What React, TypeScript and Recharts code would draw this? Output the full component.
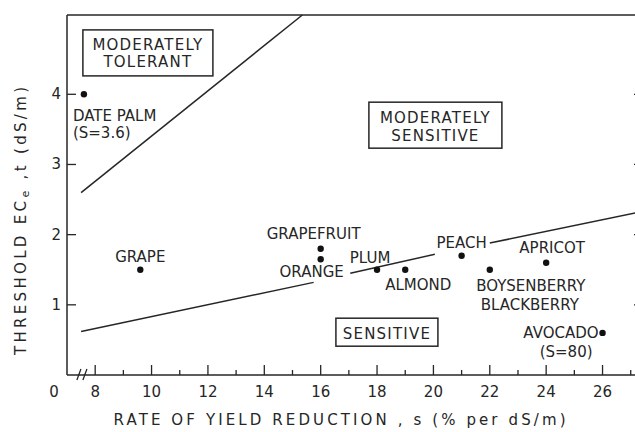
import React from 'react';
import { ScatterChart, Scatter, XAxis, YAxis, ReferenceLine, ReferenceDot } from 'recharts';

// crops: rate of yield reduction s (% per dS/m) vs threshold ECe,t (dS/m)
const crops = ['DATE PALM', 'GRAPE', 'GRAPEFRUIT', 'ORANGE', 'PLUM', 'ALMOND', 'PEACH', 'BOYSENBERRY', 'APRICOT', 'AVOCADO'];
const slopes = [7.6, 9.6, 16, 16, 18, 19, 21, 22, 24, 26];
const thresholds = [4.0, 1.5, 1.8, 1.65, 1.5, 1.5, 1.7, 1.5, 1.6, 0.6];
const labelLines = [
  ['DATE PALM', '(S=3.6)'],
  ['GRAPE'],
  ['GRAPEFRUIT'],
  ['ORANGE'],
  ['PLUM'],
  ['ALMOND'],
  ['PEACH'],
  ['BOYSENBERRY', 'BLACKBERRY'],
  ['APRICOT'],
  ['AVOCADO', '(S=80)'],
];

// class boundaries
const tolerantBoundary = [[7.5, 2.6], [15.35, 5.13]];
const sensitiveBoundary = [
  [[7.5, 0.62], [15.75, 1.32]],
  [[17.05, 1.45], [20.05, 1.72]],
  [[22.0, 1.88], [27.4, 2.33]],
];

// boxed class names
const regionNames = [['MODERATELY', 'TOLERANT'], ['MODERATELY', 'SENSITIVE'], ['SENSITIVE']];
const regionS = [9.87, 20.07, 18.35];
const regionT = [4.59, 3.56, 0.61];

const xTicks = [8, 9, 10, 11, 12, 13, 14, 15, 16, 17, 18, 19, 20, 21, 22, 23, 24, 25, 26, 27];
const yTicks = [0, 1, 2, 3, 4];
const yTicksRight = [1, 2, 3, 4];

const INK = '#262626';
const FONT = '"DejaVu Sans", sans-serif';

// label offsets (px) from each dot, one pair per text line
const labelPlacement: { anchor: 'start' | 'middle' | 'end'; at: number[][] }[] = [
  { anchor: 'start', at: [[-11, 27], [-11, 44]] },
  { anchor: 'middle', at: [[0, -8]] },
  { anchor: 'middle', at: [[-7, -10]] },
  { anchor: 'middle', at: [[-9, 18]] },
  { anchor: 'middle', at: [[-7, -7]] },
  { anchor: 'middle', at: [[13, 20]] },
  { anchor: 'middle', at: [[0, -8]] },
  { anchor: 'middle', at: [[41, 21], [40, 40]] },
  { anchor: 'middle', at: [[6, -10]] },
  { anchor: 'end', at: [[-4, 5], [-10, 24]] },
];

const regionBox = [
  { w: 130, h: 46, base: [-3, 14] },
  { w: 133, h: 46, base: [-2, 16] },
  { w: 102, h: 28, base: [7] },
];

const cropData = crops.map((name, i) => ({ name, s: slopes[i], t: thresholds[i], lines: labelLines[i], idx: i }));

const txt = { fontFamily: FONT, fontSize: 15, fill: INK };

const CropDot = (props: any) => {
  const { cx, cy, payload } = props;
  const p = labelPlacement[payload.idx];
  return (
    <g>
      <circle cx={cx} cy={cy} r={3.2} fill="#111" />
      {payload.lines.map((line: string, k: number) => (
        <text key={k} x={cx + p.at[k][0]} y={cy + p.at[k][1]} textAnchor={p.anchor} {...txt}>
          {line}
        </text>
      ))}
    </g>
  );
};

const regionShape = (i: number) => (props: any) => {
  const { cx, cy } = props;
  const b = regionBox[i];
  return (
    <g>
      <rect x={cx - b.w / 2} y={cy - b.h / 2} width={b.w} height={b.h} fill="none" stroke={INK} strokeWidth={1.5} />
      {regionNames[i].map((line, k) => (
        <text key={k} x={cx} y={cy + b.base[k]} textAnchor="middle" {...txt} letterSpacing={1.2}>
          {line}
        </text>
      ))}
    </g>
  );
};

const BreakMark = (props: any) => {
  const { cx, cy } = props;
  return (
    <g stroke={INK} strokeWidth={1.3}>
      <line x1={cx - 7} y1={cy + 5} x2={cx - 3} y2={cy - 6} />
      <line x1={cx - 1} y1={cy + 5} x2={cx + 3} y2={cy - 6} />
    </g>
  );
};

const XTick = (props: any) => {
  const { x, y, payload } = props;
  const v = payload.value;
  const major = v % 2 === 0;
  return (
    <g>
      <line x1={x} x2={x} y1={y} y2={y - (major ? 10 : 5)} stroke={INK} strokeWidth={1.3} />
      {major && (
        <text x={x} y={y + 22} textAnchor="middle" {...txt}>
          {v}
        </text>
      )}
    </g>
  );
};

const YTick = (props: any) => {
  const { x, y, payload } = props;
  const v = payload.value;
  if (v === 0) {
    return (
      <text x={x - 13} y={y + 22} textAnchor="middle" {...txt}>
        0
      </text>
    );
  }
  return (
    <g>
      <line x1={x} x2={x + 9} y1={y} y2={y} stroke={INK} strokeWidth={1.3} />
      <text x={x - 6} y={y + 5} textAnchor="end" {...txt}>
        {v}
      </text>
    </g>
  );
};

const RTick = (props: any) => {
  const { x, y } = props;
  return <line x1={x - 8} x2={x} y1={y} y2={y} stroke={INK} strokeWidth={1.3} />;
};

const XTitle = (props: any) => {
  const vb = props.viewBox;
  return (
    <text x={vb.x + vb.width / 2 - 15} y={vb.y + 50} textAnchor="middle" textLength={452} lengthAdjust="spacing" {...txt}>
      RATE OF YIELD REDUCTION , s (% per dS/m)
    </text>
  );
};

const YTitle = (props: any) => {
  const vb = props.viewBox;
  const cx = vb.x + 21;
  const cy = vb.y + vb.height / 2 + 26;
  return (
    <text
      x={cx}
      y={cy}
      transform={`rotate(-90 ${cx} ${cy})`}
      textAnchor="middle"
      dominantBaseline="central"
      textLength={268}
      lengthAdjust="spacing"
      {...txt}
    >
      THRESHOLD EC
      <tspan fontSize={11} dy={4}>e</tspan>
      <tspan dy={-4}> ,t (dS/m)</tspan>
    </text>
  );
};

export default function App() {
  return (
    <div style={{ position: 'absolute', left: 0, top: 0, width: 635, height: 432, overflow: 'hidden', background: '#fff' }}>
      <ScatterChart width={660} height={432} margin={{ top: 15, right: 0, bottom: 0, left: 0 }}>
        <XAxis
          type="number"
          dataKey="s"
          domain={[7, 27.4]}
          ticks={xTicks}
          interval={0}
          allowDataOverflow
          height={57}
          tickSize={0}
          tickMargin={0}
          tick={<XTick />}
          axisLine={{ stroke: INK, strokeWidth: 1.5 }}
          label={<XTitle />}
        />
        <YAxis
          type="number"
          dataKey="t"
          domain={[0, 5.13]}
          ticks={yTicks}
          interval={0}
          allowDataOverflow
          width={67}
          tickSize={0}
          tickMargin={0}
          tick={<YTick />}
          axisLine={{ stroke: INK, strokeWidth: 1.5 }}
          label={<YTitle />}
        />
        <YAxis
          yAxisId="right"
          orientation="right"
          type="number"
          domain={[0, 5.13]}
          ticks={yTicksRight}
          interval={0}
          allowDataOverflow
          width={18}
          tickSize={0}
          tickMargin={0}
          tick={<RTick />}
          axisLine={{ stroke: INK, strokeWidth: 1.5 }}
        />
        <ReferenceLine y={5.13} stroke={INK} strokeWidth={1.5} ifOverflow="visible" />
        <ReferenceLine
          segment={[
            { x: tolerantBoundary[0][0], y: tolerantBoundary[0][1] },
            { x: tolerantBoundary[1][0], y: tolerantBoundary[1][1] },
          ]}
          stroke={INK}
          strokeWidth={1.5}
          ifOverflow="visible"
        />
        {sensitiveBoundary.map((seg, i) => (
          <ReferenceLine
            key={i}
            segment={[
              { x: seg[0][0], y: seg[0][1] },
              { x: seg[1][0], y: seg[1][1] },
            ]}
            stroke={INK}
            strokeWidth={1.5}
            ifOverflow="visible"
          />
        ))}
        {regionNames.map((_, i) => (
          <ReferenceDot key={i} x={regionS[i]} y={regionT[i]} r={1} ifOverflow="visible" shape={regionShape(i)} />
        ))}
        <ReferenceDot x={7.6} y={0} r={1} ifOverflow="visible" shape={BreakMark} />
        <Scatter data={cropData} shape={CropDot} isAnimationActive={false} />
      </ScatterChart>
    </div>
  );
}
